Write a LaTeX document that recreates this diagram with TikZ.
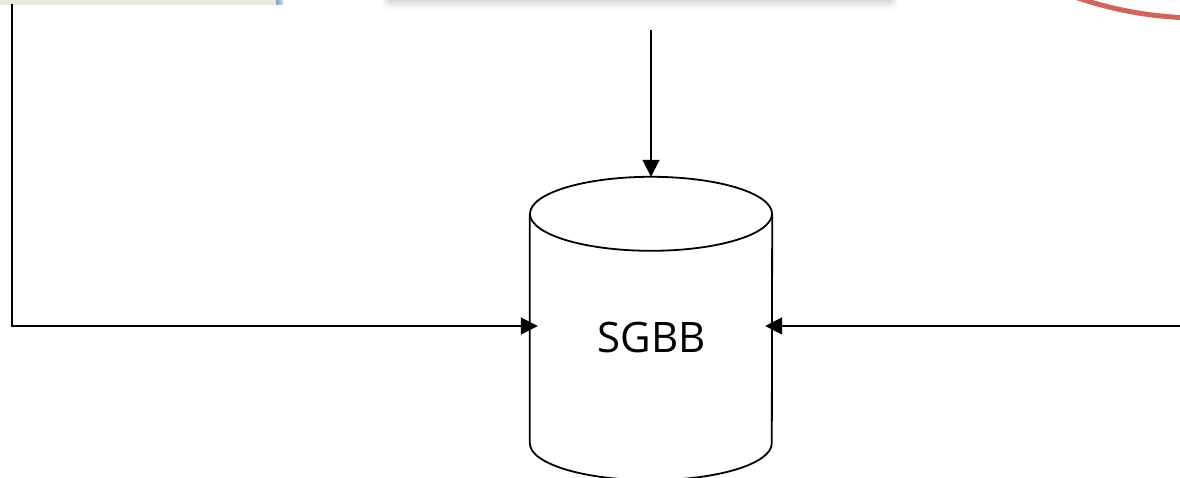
\documentclass[tikz,border=0pt]{standalone}
\usepackage{fontspec}
\setmainfont{Open Sans}
\usetikzlibrary{arrows.meta,shadows.blur}
\definecolor{paneltan}{HTML}{ECE9D8}
\definecolor{paneledge}{HTML}{7E9FD2}
\definecolor{paneledgelight}{HTML}{CFE0F2}
\definecolor{ringred}{HTML}{CF665E}
\tikzset{
  wire/.style={line width=1.8pt, black},
  flow/.style={wire, -{Triangle[length=17pt,width=17pt]}},
  dbbody/.style={rectangle, minimum width=242pt, minimum height=229pt, inner sep=0pt},
  dboutline/.style={line width=1.8pt, black},
  dblabel/.style={font=\fontsize{42}{48}\selectfont, inner sep=0pt, anchor=base},
}
\begin{document}
\begin{tikzpicture}[x=1pt,y=1pt]
  \useasboundingbox (0,0) rectangle (1180,478);
  \clip (0,0) rectangle (1180,478);

  % panel at the top left, with its blue right edge
  \fill[paneltan] (0,473) rectangle (277,490);
  \shade[left color=paneledge, right color=paneledgelight] (276,473) rectangle (283,490);

  % shadowed card above the database
  \node[draw=none, fill=white, minimum width=500pt, minimum height=80pt,
        blur shadow={shadow xshift=0pt, shadow yshift=-3pt, shadow blur radius=9pt, shadow opacity=30}]
        (card) at (640,520) {};

  % red ring at the top right
  \draw[ringred, line width=5pt] (1200,840) circle[radius=380];

  % database cylinder
  \node[dbbody] (db) at (651,149.5) {};
  \draw[dboutline] (db.north) ellipse[x radius=121, y radius=37];
  \draw[dboutline] (db.north west) -- (db.south west)
                   arc[start angle=180, end angle=360, x radius=121, y radius=37]
                   -- (db.north east);
  \node[dblabel] (dbname) at (651.5,125) {SGBB};

  % connectors into the database
  \coordinate (topsrc) at (651,448);
  \coordinate (dbtop) at ([yshift=37pt]db.north);
  \draw[flow] (topsrc) -- (dbtop);

  \coordinate (leftsrc) at (12,474);
  \coordinate (leftin) at ([xshift=8pt,yshift=2.5pt]db.west);
  \draw[flow] (leftsrc) |- (leftin);

  \coordinate (rightsrc) at (1181,152);
  \coordinate (rightin) at ([xshift=-7pt,yshift=2.5pt]db.east);
  \draw[flow] (rightsrc) -- (rightin);
\end{tikzpicture}
\end{document}
